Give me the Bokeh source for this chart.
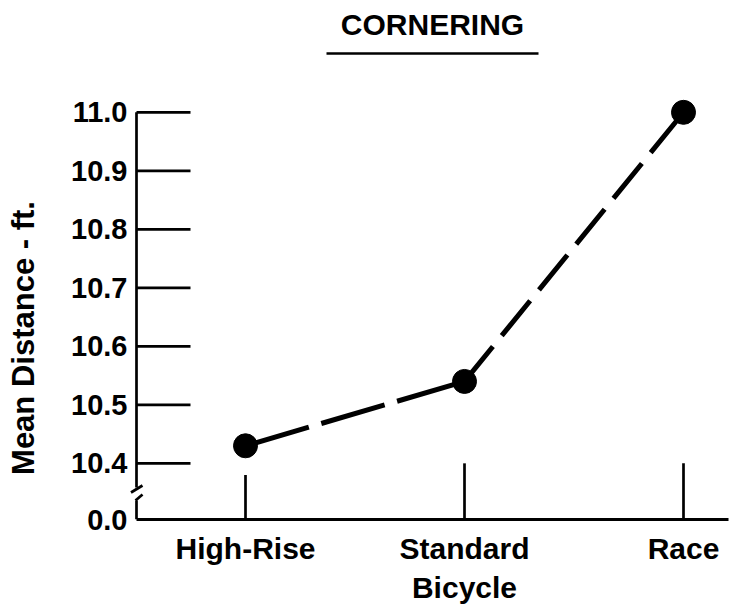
import math
from bokeh.plotting import figure
from bokeh.layouts import row
from bokeh.models import Range1d, FixedTicker, Label
from bokeh.core.properties import value
from bokeh.embed import file_html
from bokeh.resources import INLINE

# ---------------- data ----------------
categories = ["High-Rise", "Standard\nBicycle", "Race"]
mean_distance_ft = [10.43, 10.54, 11.0]
y_tick_values = [10.4, 10.5, 10.6, 10.7, 10.8, 10.9, 11.0]
y_tick_labels = ["10.4", "10.5", "10.6", "10.7", "10.8", "10.9", "11.0"]
break_value = 10.304          # where the broken axis origin sits
break_label = "0.0"
title_text = "CORNERING"
y_axis_title = "Mean Distance - ft."

# ---------------- layout / style ----------------
TOTAL_W, H = 730, 614
LW = 50                        # narrow strip holding the y axis title
MW = TOTAL_W - LW              # main figure width
FRAME_LEFT_IMG = 128
FRAME_RIGHT_IMG = 728
FRAME_BOTTOM_IMG = 519
PX_PER_CAT = 219.0
PX_PER_UNIT = 585.0
FIRST_CAT_IMG = 245.0
FONT = "Liberation Sans"
BLACK = "#000000"

border_l = FRAME_LEFT_IMG - LW
border_r = TOTAL_W - FRAME_RIGHT_IMG
border_b = H - FRAME_BOTTOM_IMG
frame_w = FRAME_RIGHT_IMG - FRAME_LEFT_IMG
frame_h = FRAME_BOTTOM_IMG

x_idx = list(range(len(categories)))
x_start = -(FIRST_CAT_IMG - FRAME_LEFT_IMG) / PX_PER_CAT
x_end = x_start + frame_w / PX_PER_CAT
y_start = break_value
y_end = y_start + frame_h / PX_PER_UNIT


def ix(img_x):
    return x_start + (img_x - FRAME_LEFT_IMG) / PX_PER_CAT


def iy(img_y):
    return y_start + (FRAME_BOTTOM_IMG - img_y) / PX_PER_UNIT


y_range = Range1d(y_start, y_end)
p = figure(width=MW, height=H, x_range=Range1d(x_start, x_end), y_range=y_range,
           output_backend="svg", toolbar_location=None, title=None,
           min_border_left=border_l, min_border_right=border_r, min_border_top=0,
           min_border_bottom=border_b)
p.outline_line_color = None
p.xgrid.visible = False
p.ygrid.visible = False
p.background_fill_color = "white"
p.border_fill_color = "white"

axis_x = ix(136)

# x axis (Bokeh) -- line starts at the drawn y axis
xa = p.xaxis[0]
xa.ticker = FixedTicker(ticks=x_idx)
xa.major_label_overrides = {i: c for i, c in zip(x_idx, categories)}
xa.bounds = (axis_x, x_end)
xa.axis_line_width = 3
xa.axis_line_color = BLACK
xa.major_tick_line_color = None
xa.minor_tick_line_color = None
xa.major_tick_in = 0
xa.major_tick_out = 0
xa.major_label_standoff = 12
xa.major_label_text_font = FONT
xa.major_label_text_font_size = "30px"
xa.major_label_text_font_style = "bold"
xa.major_label_text_color = BLACK

# y axis (Bokeh) -- labels only
ya = p.yaxis[0]
ya.ticker = FixedTicker(ticks=[break_value] + y_tick_values)
overrides = {break_value: break_label}
overrides.update({v: t for v, t in zip(y_tick_values, y_tick_labels)})
ya.major_label_overrides = overrides
ya.axis_line_color = None
ya.major_tick_line_color = None
ya.minor_tick_line_color = None
ya.major_tick_in = 0
ya.major_tick_out = 0
ya.major_label_standoff = 1
ya.major_label_text_font = FONT
ya.major_label_text_font_size = "29px"
ya.major_label_text_font_style = "bold"
ya.major_label_text_color = BLACK

# drawn y axis line with break
p.segment(x0=[axis_x, axis_x], x1=[axis_x, axis_x],
          y0=[y_tick_values[-1], iy(500)], y1=[iy(487), y_start],
          line_width=2.7, line_color=BLACK)
p.segment(x0=[ix(130.5), ix(135)], y0=[iy(492), iy(500)],
          x1=[ix(142), ix(142)], y1=[iy(485), iy(494)],
          line_width=2.7, line_color=BLACK)
# y ticks pointing into the plot
tick_len = 54 / PX_PER_CAT
p.segment(x0=[axis_x] * len(y_tick_values), x1=[axis_x + tick_len] * len(y_tick_values),
          y0=y_tick_values, y1=y_tick_values, line_width=2.7, line_color=BLACK)

# category ticks rising from the x axis
tick_top = [min(y_tick_values[0], v - 0.05) for v in mean_distance_ft]
p.segment(x0=x_idx, x1=x_idx, y0=[y_start] * len(x_idx), y1=tick_top,
          line_width=2.7, line_color=BLACK)

# dashed connecting line
dash_patterns = ["66 13", "45 14"]
for i in range(len(x_idx) - 1):
    p.line(x=x_idx[i:i + 2], y=mean_distance_ft[i:i + 2], line_width=5,
           line_color=BLACK, line_dash=dash_patterns[i])
p.scatter(x=x_idx, y=mean_distance_ft, size=24, marker="circle",
          fill_color=BLACK, line_color=BLACK)

# title with underline
title_x = (axis_x + x_end) / 2
p.add_layout(Label(x=title_x, y=iy(24), text=title_text, text_align="center",
                   text_baseline="middle", text_font=FONT, text_font_size="30px",
                   text_font_style="bold", text_color=BLACK))
half_ul = 106 / PX_PER_CAT
p.segment(x0=[title_x - half_ul], x1=[title_x + half_ul], y0=[iy(53)], y1=[iy(53)],
          line_width=2.5, line_color=BLACK)

# strip with the rotated y axis title (frame aligned with the main plot)
q = figure(width=LW, height=H, x_range=Range1d(0, LW), y_range=y_range,
           output_backend="svg", toolbar_location=None, title=None,
           x_axis_location=None, y_axis_location=None,
           min_border_left=0, min_border_right=0, min_border_top=0, min_border_bottom=border_b)
q.outline_line_color = None
q.grid.visible = False
q.background_fill_color = "white"
q.border_fill_color = "white"
q.text(x=[23], y=[iy(337.5)], text=[y_axis_title], angle=math.pi / 2,
       text_align="center", text_baseline="middle", text_font=value(FONT),
       text_font_size="31px", text_font_style="bold", text_color=BLACK)

layout = row(q, p, spacing=0)
open("out.html", "w").write(file_html(layout, INLINE))
